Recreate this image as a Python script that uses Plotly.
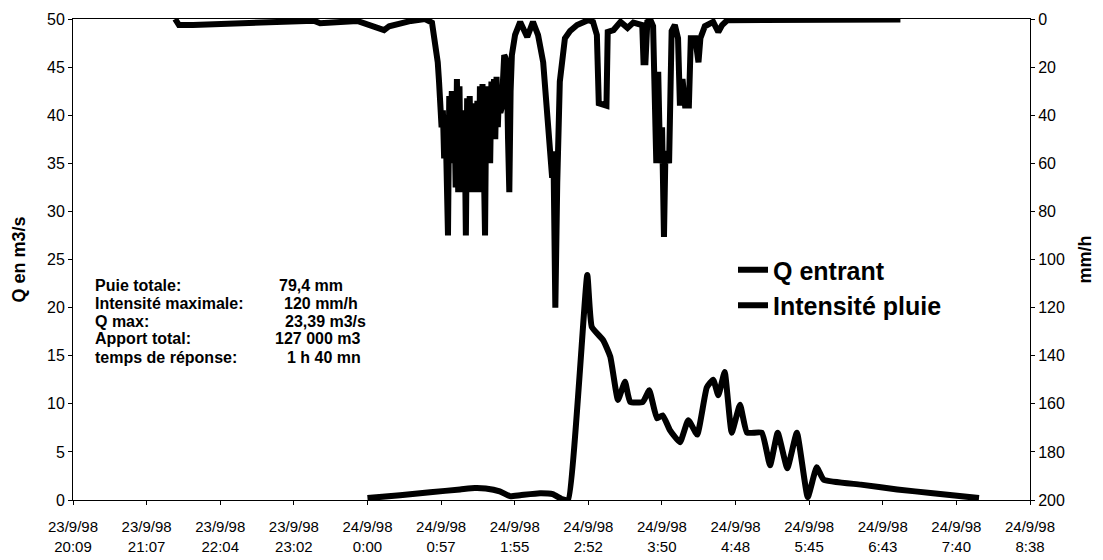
import plotly.graph_objects as go

# ---------------- data ----------------
tick_times = ["20:09:36", "21:07:12", "22:04:48", "23:02:24", "00:00:00", "00:57:36", "01:55:12",
              "02:52:48", "03:50:24", "04:48:00", "05:45:36", "06:43:12", "07:40:48", "08:38:24"]
tick_dates = ["23/9/98", "23/9/98", "23/9/98", "23/9/98", "24/9/98", "24/9/98", "24/9/98",
              "24/9/98", "24/9/98", "24/9/98", "24/9/98", "24/9/98", "24/9/98", "24/9/98"]
tick_hours = ["20:09", "21:07", "22:04", "23:02", "0:00", "0:57", "1:55",
              "2:52", "3:50", "4:48", "5:45", "6:43", "7:40", "8:38"]

# Inflow discharge (m3/s)
q_times = ["00:00", "00:25:30", "00:49", "01:12:30", "01:24", "01:32:30", "01:43:30", "01:51:30",
           "01:59:30", "02:15", "02:25", "02:32", "02:37", "02:52", "02:55:30", "03:04:30",
           "03:10", "03:16", "03:21:30", "03:25:30", "03:35:30", "03:40:30", "03:46:30", "03:51",
           "03:56:30", "04:04:30", "04:11", "04:18", "04:25:30", "04:30:30", "04:34:30", "04:39:30",
           "04:45", "04:51:30", "04:57", "05:08:30", "05:15", "05:21", "05:28:30", "05:36",
           "05:44:30", "05:51:30", "05:57", "06:26", "06:54:30", "07:22:30", "07:58:30"]
q_values = [0.2, 0.5, 0.8, 1.1, 1.25, 1.2, 0.9, 0.4,
            0.5, 0.7, 0.6, 0.1, 0.0, 23.39, 18.0, 16.6,
            14.9, 10.4, 12.3, 10.2, 10.2, 11.4, 8.5, 8.8,
            7.3, 6.0, 8.3, 6.8, 11.7, 12.5, 10.9, 13.3,
            7.0, 9.9, 7.0, 7.0, 3.6, 7.0, 3.3, 7.0,
            0.3, 3.4, 2.1, 1.6, 1.1, 0.7, 0.2]

# Rain intensity (mm/h) - early part
rain_early_times = ["21:29:30", "21:32:30", "21:43:30", "22:28", "23:18", "23:23", "23:52",
                    "00:13", "00:17", "00:34", "00:45", "00:50:30"]
rain_early_values = [0, 2.5, 2.5, 1.5, 0.7, 1.8, 0.8, 4.6, 3.0, 0.8, 0, 1.5]

# Rain intensity (mm/h) - intense part, one value per minute from 00:54
rain_dense_start = "00:54"
rain_dense_values = [12, 18, 26, 35, 45, 38, 58, 40, 60, 90,
                     32, 58, 30, 60, 35, 70, 25, 72, 28, 72,
                     38, 72, 40, 90, 33, 72, 32, 72, 35, 72,
                     35, 72, 34, 72, 28, 72, 27, 72, 90, 28,
                     60, 28, 60, 26, 50, 25, 50, 24, 45, 30,
                     39, 37, 25, 15, 16, 18, 50, 72, 30, 15]

# Rain intensity (mm/h) - late part
rain_late_times = ["01:55:30", "01:59:30", "02:05", "02:09:30", "02:13:30", "02:17:30", "02:21",
                   "02:24:30", "02:25:30", "02:27", "02:28:30", "02:30:30", "02:34:30", "02:38:30",
                   "02:44", "02:53", "02:56:30", "02:59:30", "03:01", "03:05", "03:07", "03:08",
                   "03:12:30", "03:18", "03:23:30", "03:28", "03:35", "03:36", "03:37:30", "03:39",
                   "03:41:30", "03:43:30", "03:45", "03:46", "03:47:30", "03:49", "03:50:30",
                   "03:52", "03:53", "03:54:30", "03:56", "03:58", "04:00:30", "04:03", "04:04:30",
                   "04:06:30", "04:08:30", "04:11:30", "04:13", "04:16:30", "04:19", "04:20:30",
                   "04:24", "04:30:30", "04:34:30", "04:37:30", "04:41:30", "05:07", "06:57"]
rain_late_values = [6.6, 1.2, 7.5, 1.2, 6.7, 18, 42,
                    66, 55, 120, 68, 26, 8, 5,
                    2.5, 0.4, 1.2, 6.6, 35, 36, 36, 5.4,
                    4.6, 1.2, 3.7, 1.5, 2.5, 18, 18, 1.2,
                    0.5, 3.0, 30, 60, 22, 60, 45,
                    90.6, 60, 55, 60, 5, 2.5, 8, 36,
                    25, 36, 36, 8, 8, 18, 8,
                    3, 1.2, 5.4, 2.5, 0.5, 0.5, 0.2]

stat_labels = ["Puie totale:", "Intensité maximale:", "Q max:", "Apport total:", "temps de réponse:"]
stat_values = ["79,4 mm", "120 mm/h", "23,39 m3/s", "127 000 m3", "1 h 40 mn"]


# ---------------- helpers ----------------
def to_dt(s):
    parts = s.split(":")
    h = int(parts[0])
    m = int(parts[1])
    sec = int(parts[2]) if len(parts) > 2 else 0
    day = "1998-09-23" if h >= 12 else "1998-09-24"
    return f"{day} {h:02d}:{m:02d}:{sec:02d}"


def add_minutes(s, k):
    h, m = [int(v) for v in s.split(":")[:2]]
    tot = h * 60 + m + k
    return f"{(tot // 60) % 24:02d}:{tot % 60:02d}"


q_x = [to_dt(t) for t in q_times]
rain_times = (rain_early_times
              + [add_minutes(rain_dense_start, k) for k in range(len(rain_dense_values))]
              + rain_late_times)
rain_x = [to_dt(t) for t in rain_times]
rain_y = rain_early_values + rain_dense_values + rain_late_values

tickvals = [to_dt(t) for t in tick_times]
ticktext = [f"{d}<br>{h}" for d, h in zip(tick_dates, tick_hours)]

FONT = "Liberation Sans, Arial, sans-serif"
W, H = 1103, 560
L, R, T, B = 73, 73, 19, 60
PW, PH = W - L - R, H - T - B


def px_x(x):
    return (x - L) / PW


def px_y(y):
    return 1 - (y - T) / PH


fig = go.Figure()
fig.add_trace(go.Scatter(x=q_x, y=q_values, name="Q entrant", mode="lines",
                         line=dict(color="black", width=6, shape="spline", smoothing=0.4),
                         legendgroup="q", yaxis="y"))
fig.add_trace(go.Scatter(x=rain_x, y=rain_y, name="Intensité pluie", mode="lines",
                         line=dict(color="black", width=6), legendgroup="r", yaxis="y2"))

annotations = []
label_y = [285, 303, 321, 338, 357]
value_x = [277, 282, 283, 273, 285]
for lab, val, yy, vx in zip(stat_labels, stat_values, label_y, value_x):
    annotations.append(dict(x=px_x(93), y=px_y(yy), xref="paper", yref="paper", text=lab,
                            showarrow=False, xanchor="left", yanchor="middle",
                            font=dict(family=FONT, size=16, color="black", weight="bold")))
    annotations.append(dict(x=px_x(vx), y=px_y(yy), xref="paper", yref="paper", text=val,
                            showarrow=False, xanchor="left", yanchor="middle",
                            font=dict(family=FONT, size=16, color="black", weight="bold")))

fig.update_layout(
    width=W, height=H,
    margin=dict(l=L, r=R, t=T, b=B, autoexpand=False),
    paper_bgcolor="white", plot_bgcolor="white",
    font=dict(family=FONT, color="black", size=15),
    showlegend=True,
    legend=dict(x=px_x(733), y=px_y(247), xanchor="left", yanchor="top",
                font=dict(family=FONT, size=25, color="black", weight="bold"),
                bgcolor="rgba(0,0,0,0)", tracegroupgap=4, traceorder="normal"),
    xaxis=dict(type="date", range=[to_dt("20:09:36"), to_dt("08:38:24")],
               tickmode="array", tickvals=tickvals, ticktext=ticktext, automargin=False,
               showgrid=False, zeroline=False, showline=True, linecolor="black", linewidth=1,
               mirror=True, ticks="outside", ticklen=4, tickcolor="black",
               tickfont=dict(size=15, family=FONT), ticklabelstandoff=9),
    yaxis=dict(range=[0, 50], dtick=5, showgrid=False, zeroline=False, automargin=False,
               showline=True, linecolor="black", linewidth=1, ticks="outside", ticklen=4,
               tickcolor="black", tickfont=dict(size=16, family=FONT),
               title=dict(text="Q en m3/s", standoff=16,
                          font=dict(size=18, family=FONT, weight="bold"))),
    yaxis2=dict(range=[200, 0], dtick=20, overlaying="y", side="right", showgrid=False,
                zeroline=False, showline=True, linecolor="black", linewidth=1, automargin=False,
                ticks="outside", ticklen=4, tickcolor="black",
                tickfont=dict(size=16, family=FONT),
                title=dict(text="mm/h", standoff=14,
                           font=dict(size=18, family=FONT, weight="bold"))),
    annotations=annotations,
)

fig.write_html("out.html", config={"displayModeBar": False},
               post_script="document.body.style.margin='0';")
